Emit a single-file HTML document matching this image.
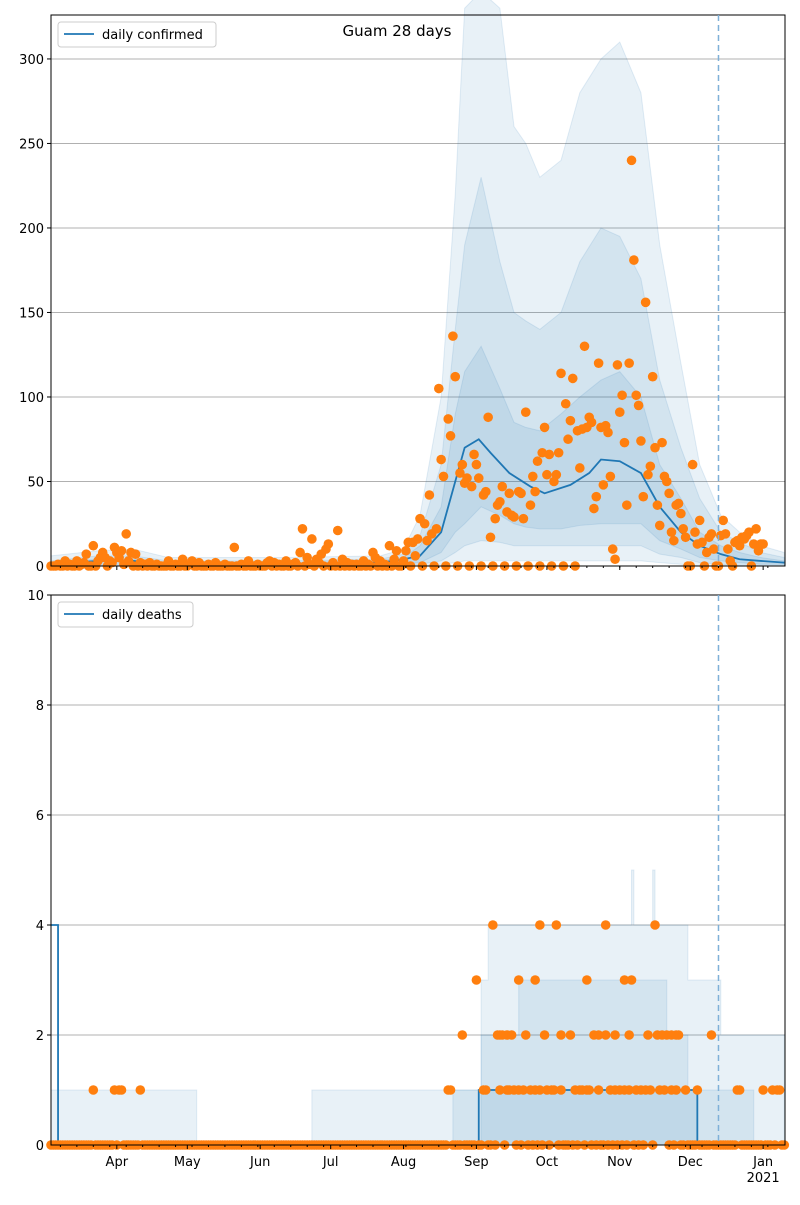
<!DOCTYPE html>
<html><head><meta charset="utf-8"><style>
body{margin:0;background:#fff;font-family:"Liberation Sans","DejaVu Sans",sans-serif}
svg text{font-family:"DejaVu Sans","Liberation Sans",sans-serif;font-size:13px}
</style></head><body>
<svg id="c" width="800" height="1200"></svg>
<script>
// ---- data ----
const confirmedEarly=[0,0,0,1,0,0,3,0,1,0, 0,3,0,1,2,7,0,0,12,0, 3,5,8,5,0,3,2,11,8,5, 9,1,19,3,8,0,7,0,2,0, 1,0,2,0,0,1,0,0,0,0, 3,0,0,1,0,0,4,0,0,1, 3,0,0,2,0,0,0,1,0,0, 2,0,0,0,1,0,0,0,11,0, 0,1,0,0,3,0,0,0,1,0, 0,0,2,3,0,2,0,1,0,0, 3,0,0,1,2,0,8,22,0,5, 1,16,0,4,2,7,0,10,13,0, 2,0,21,0,4,0,2,0,1,0, 1,0,0,3,0,1,0,8,5,0, 3,0,1,0,12,0,4,9,0,0];
const confirmedLate=[3,9,14,0,14,6,16,28,0,25,15,42,19,0,22,105,63,53,0,87,77,136,112,0,55,60,49,52,0,47,66,60,52,0,42,44,88,17,0,28,36,38,47,0,32,43,30,29,0,44,43,28,91,0,36,53,44,62,0,67,82,54,66,0,50,54,67,114,0,96,75,86,111,0,80,58,81,130,82,88,85,34,41,120,82,48,83,79,53,10,4,119,91,101,73,36,120,240,181,101,95,74,41,156,54,59,112,70,36,24,73,53,50,43,20,15,36,37,31,22,17,0,0,60,20,13,27,14,0,8,17,19,10,0,0,18,27,19,10,3,0,14,15,12,17,16,18,20,0,13,22,9,13,13];
const bandDays=[0,20,35,50,100,140,150,157,166,172,176,183,191,197,202,208,217,225,234,242,251,259,268,276,285,293,302,312];
const outerHi=[6,9,10,5,5,6,10,30,100,220,330,340,330,260,250,230,240,280,300,310,280,190,120,60,30,20,12,8];
const midHi=[3,6,6,3,3,4,7,18,60,140,190,230,180,150,145,140,150,180,200,195,170,110,70,40,20,14,8,5];
const innerHi=[2,4,4,2,2,3,5,12,35,90,115,130,105,85,82,80,90,100,110,115,100,60,40,20,12,8,5,3];
const innerLo=[0,0,0,0,0,0,1,2,8,20,25,35,30,25,23,22,22,24,25,25,25,15,10,5,3,2,1,1];
const midLo=[0,0,0,0,0,0,0,1,3,8,12,15,14,12,12,12,12,12,12,12,12,7,5,2,1,0,0,0];
const outerLo=[0,0,0,0,0,0,0,0,1,2,3,3,3,3,3,3,3,3,3,3,3,2,1,0,0,0,0,0];
const medDays=[0,20,35,50,100,140,150,157,166,172,176,182,187,195,204,210,221,229,234,242,251,259,268,276,285,293,302,312];
const medVals=[1,3,3,1,1,2,4,6,20,50,70,75,67,55,47,43,48,55,63,62,55,35,20,12,7,4,3,2];
const deathDays=[18,27,29,30,38,169,170,184,185,191,194,195,197,199,201,204,206,208,211,213,214,217,223,225,226,228,229,233,238,240,242,244,246,249,251,253,255,259,261,264,266,270,275,292,293,303,307,309,310,175,190,191,192,194,196,202,210,217,221,231,233,236,240,246,254,258,260,262,264,266,267,281,181,199,206,228,244,247,188,208,215,236,257];
const deathVals=[1,1,1,1,1,1,1,1,1,1,1,1,1,1,1,1,1,1,1,1,1,1,1,1,1,1,1,1,1,1,1,1,1,1,1,1,1,1,1,1,1,1,1,1,1,1,1,1,1,2,2,2,2,2,2,2,2,2,2,2,2,2,2,2,2,2,2,2,2,2,2,2,3,3,3,3,3,3,4,4,4,4,4];
const dBandDays=[0,62,111,163,171,183,186,199,247,248,256,257,262,271,275,285,299,312];
const dOuter=[1,0,1,1,1,3,4,4,5,4,5,4,4,3,3,2,2,2];
const dMid=[0,0,0,0,1,2,2,3,3,3,3,3,2,1,1,1,0,0];
const dInner=[0,0,0,0,0,1,1,1,1,1,1,1,1,1,0,0,0,0];
const dMedDays=[0,3,182,275,312];
const dMedVals=[4,0,1,0,0];
const monthLabels=["Apr","May","Jun","Jul","Aug","Sep","Oct","Nov","Dec","Jan"];
const monthDays=[28,58,89,119,150,181,211,242,272,303];
const topTicks=[0,50,100,150,200,250,300];
const botTicks=[0,2,4,6,8,10];
// ---- drawing ----
const NS="http://www.w3.org/2000/svg",svg=document.getElementById('c');
function el(t,a,p){const e=document.createElementNS(NS,t);for(const k in a)e.setAttribute(k,a[k]);(p||svg).appendChild(e);return e;}
const X0=51,X1=785,DMAX=312.3;
const xs=d=>X0+d*(X1-X0)/DMAX;
function panel(top,bot,ymax,name){
  const ys=v=>bot-v*(bot-top)/ymax;
  const g=el('g',{});
  return {g,ys,top,bot};
}
function axes(P,ticks,name){
  const gg=el('g',{},P.g);
  ticks.forEach(t=>{const y=P.ys(t);
    el('line',{x1:X0,x2:X1,y1:y,y2:y,stroke:'#b0b0b0','stroke-width':1},gg);
    el('line',{x1:X0-4,x2:X0,y1:y,y2:y,stroke:'#000'},gg);
    const tx=el('text',{x:X0-7,y:y+5,'text-anchor':'end'},P.g);tx.textContent=t;
    });
}
function frame(P){
  el('rect',{x:X0,y:P.top,width:X1-X0,height:P.bot-P.top,fill:'none',stroke:'#000','stroke-width':1},P.g);
  for(let d=4;d<312;d+=7){el('line',{x1:xs(d),x2:xs(d),y1:P.bot,y2:P.bot+2,stroke:'#000'},P.g);}
  monthDays.forEach(d=>el('line',{x1:xs(d),x2:xs(d),y1:P.bot,y2:P.bot+4,stroke:'#000'},P.g));
  el('line',{x1:xs(284),x2:xs(284),y1:P.top,y2:P.bot,stroke:'#7fb0d8','stroke-width':1.5,'stroke-dasharray':'6,4'},P.g);
}
function band(P,days,hi,lo,step,nm){
  let pts=[];
  if(step){for(let i=0;i<days.length;i++){const n=i<days.length-1?days[i+1]:days[i];pts.push([xs(days[i]),P.ys(hi[i])],[xs(n),P.ys(hi[i])]);}
    pts.push([xs(days[days.length-1]),P.bot],[xs(days[0]),P.bot]);}
  else{days.forEach((d,i)=>pts.push([xs(d),P.ys(hi[i])]));for(let i=days.length-1;i>=0;i--)pts.push([xs(days[i]),P.ys(lo[i])]);}
  const p=el('polygon',{points:pts.map(q=>q.join(',')).join(' '),fill:'rgba(31,119,180,0.1)',stroke:'rgba(31,119,180,0.12)'},P.g);
  
}
function line(P,days,vals,step,nm){
  let d='';days.forEach((dd,i)=>{const x=xs(dd),y=P.ys(vals[i]);
    if(i===0)d+='M'+x+','+y;else if(step)d+='V'+y+'H'+x; else d+='L'+x+','+y;});
  if(step)d='';
  if(step){days.forEach((dd,i)=>{const x=xs(dd),y=P.ys(vals[i]);d+=(i===0?'M':'H'+x+'V')+(i===0?x+','+y:y);});}
  const p=el('path',{d,fill:'none',stroke:'#1f77b4','stroke-width':1.8},P.g);
  
}
function dots(P,days,vals,nm){
  const g=el('g',{},P.g);
  days.forEach((d,i)=>{const c=el('circle',{cx:xs(d),cy:Math.max(P.top,P.ys(vals[i])),r:4.8,fill:'#ff7f0e'},g);
    });
}
function legend(P,label,w,nm){
  const g=el('g',{},P.g);
  el('rect',{x:58,y:P.top+7,width:w,height:25,rx:3,fill:'#fff',stroke:'#ccc'},g);
  el('line',{x1:64,x2:94,y1:P.top+19,y2:P.top+19,stroke:'#1f77b4','stroke-width':1.8},g);
  const t=el('text',{x:102,y:P.top+24},g);t.textContent=label;
}
// top
const T=panel(15,566,326,'confirmed-panel');
axes(T,topTicks,'confirmed');
band(T,bandDays,outerHi,outerLo,false,'confirmed-band-outer');
band(T,bandDays,midHi,midLo,false,'confirmed-band-mid');
band(T,bandDays,innerHi,innerLo,false,'confirmed-band-inner');
line(T,medDays,medVals,false,'confirmed-median-line');
const allConf=confirmedEarly.concat(confirmedLate).slice(0,313);
dots(T,allConf.map((v,i)=>i),allConf,'confirmed-points');
frame(T);
legend(T,'daily confirmed',158,'confirmed-legend');
const tt=el('text',{x:397,y:36,'text-anchor':'middle','font-size':'15'});tt.textContent='Guam 28 days';

tt.style.fontSize='15px';
// bottom
const B=panel(595,1145,10,'deaths-panel');
axes(B,botTicks,'deaths');
band(B,dBandDays,dOuter,null,true,'deaths-band-outer');
band(B,dBandDays,dMid,null,true,'deaths-band-mid');
band(B,dBandDays,dInner,null,true,'deaths-band-inner');
line(B,dMedDays,dMedVals,true,'deaths-median-line');
const nz=new Set(deathDays);const zd=[];for(let d=0;d<=312;d++)if(!nz.has(d))zd.push(d);
dots(B,zd,zd.map(()=>0),'deaths-zero-points');
dots(B,deathDays,deathVals,'deaths-points');
frame(B);
legend(B,'daily deaths',135,'deaths-legend');
monthDays.forEach((d,i)=>{const t=el('text',{x:xs(d),y:1166,'text-anchor':'middle'});t.textContent=monthLabels[i];
  });
const yr=el('text',{x:xs(303),y:1182,'text-anchor':'middle'});yr.textContent='2021';

</script>
</body></html>
